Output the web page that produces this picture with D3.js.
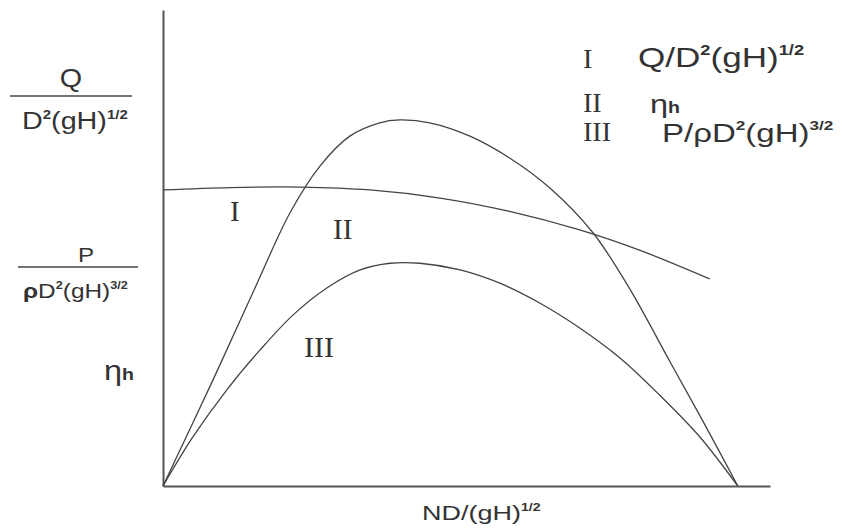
<!DOCTYPE html>
<html lang="en">
<head>
    <meta charset="UTF-8">
    <title>pump characteristic curves</title>
    <script src="https://d3js.org/d3.v7.min.js"></script>
    <style>
        body { margin: 0; background: #fff; }
        .roman { font-family: "Liberation Serif", "DejaVu Serif", serif; fill: #333; }
        .sans { font-family: "Liberation Sans", Arial, sans-serif; fill: #333; }
        .curve { fill: none; stroke: #444; stroke-width: 1.3px; }
        .axis path { stroke: #555; stroke-width: 2px; }
    </style>
</head>
<body>
<script>
    // x: ND/(gH)^1/2 (normalised, 1 = shut-off point)
    // curve I : Q/D^2(gH)^1/2
    const xI = [0, 0.117, 0.238, 0.360, 0.482, 0.603, 0.725, 0.830, 0.951];
    const yI = [0.622, 0.627, 0.628, 0.622, 0.605, 0.577, 0.538, 0.495, 0.435];
    // curve II : eta_h
    const xII = [0, 0.087, 0.163, 0.221, 0.273, 0.325, 0.377, 0.412, 0.464, 0.534, 0.603, 0.673, 0.748, 0.812, 0.882, 0.943, 1.0];
    const yII = [0, 0.223, 0.424, 0.574, 0.672, 0.735, 0.763, 0.769, 0.763, 0.735, 0.689, 0.626, 0.532, 0.414, 0.261, 0.128, 0];
    // curve III : P/rhoD^2(gH)^3/2
    const xIII = [0, 0.052, 0.111, 0.169, 0.226, 0.285, 0.343, 0.395, 0.447, 0.517, 0.586, 0.656, 0.725, 0.795, 0.864, 0.934, 1.0];
    const yIII = [0, 0.103, 0.202, 0.286, 0.359, 0.416, 0.454, 0.468, 0.468, 0.454, 0.426, 0.384, 0.332, 0.269, 0.191, 0.103, 0];

    const width = 842;
    const height = 530;

    const x = d3.scaleLinear().domain([0, 1.056]).range([163, 770]);
    const y = d3.scaleLinear().domain([0, 1]).range([486, 10]);

    const svg = d3.select("body").append("svg")
        .attr("width", width).attr("height", height);

    //坐标轴
    svg.append("g").attr("class", "axis")
        .attr("transform", `translate(0,${y(0)})`)
        .call(d3.axisBottom(x).ticks(0).tickSizeOuter(0));
    svg.append("g").attr("class", "axis")
        .attr("transform", `translate(${x(0)},0)`)
        .call(d3.axisLeft(y).ticks(0).tickSizeOuter(0));

    //曲线
    const line = d3.line()
        .x(d => x(d[0]))
        .y(d => y(d[1]))
        .curve(d3.curveCatmullRom.alpha(0.5));

    [[xI, yI], [xII, yII], [xIII, yIII]].forEach(function (s) {
        svg.append("path")
            .attr("class", "curve")
            .attr("d", line(d3.zip(s[0], s[1])));
    });

    //曲线编号
    function roman(t, px, py, size) {
        svg.append("text").attr("class", "roman")
            .attr("x", px).attr("y", py)
            .attr("font-size", size)
            .text(t);
    }
    roman("I", 230, 221, 29);
    roman("II", 333, 239, 29);
    roman("III", 304, 357, 30);

    //带上标的文本, sx 为横向拉伸
    function rich(parts, px, py, size, sx, anchor) {
        const t = svg.append("text").attr("class", "sans")
            .attr("transform", `translate(${px},${py}) scale(${sx || 1},1)`)
            .attr("font-size", size)
            .attr("text-anchor", anchor || "start");
        parts.forEach(function (p) {
            const sp = t.append("tspan").text(p.t);
            if (p.sup) sp.attr("font-size", size * 0.52).attr("dy", -size * 0.45).attr("font-weight", "bold");
            if (p.down) sp.attr("dy", size * 0.45);
            if (p.bold) sp.attr("font-weight", "bold");
            if (p.small) sp.attr("font-size", size * 0.6).attr("font-weight", "bold");
        });
        return t;
    }

    //左侧纵轴标签
    rich([{t: "Q"}], 71, 87, 25, 1.15, "middle");
    svg.append("line").attr("x1", 10).attr("x2", 132).attr("y1", 96).attr("y2", 96)
        .attr("stroke", "#444").attr("stroke-width", 1.5);
    rich([{t: "D"}, {t: "2", sup: true}, {t: "(gH)", down: true}, {t: "1/2", sup: true}], 22, 129, 23, 1.25);

    rich([{t: "P"}], 86, 262, 21, 1.15, "middle");
    svg.append("line").attr("x1", 18).attr("x2", 138).attr("y1", 267).attr("y2", 267)
        .attr("stroke", "#444").attr("stroke-width", 1.5);
    rich([{t: "ρ", bold: true}, {t: "D"}, {t: "2", sup: true}, {t: "(gH)", down: true}, {t: "3/2", sup: true}], 23, 298, 20, 1.22);

    rich([{t: "η"}, {t: "h", small: true}], 104, 380, 28, 1.16);

    //横轴标签
    rich([{t: "ND/(gH)"}, {t: "1/2", sup: true}], 422, 520, 20, 1.35);

    //图例
    roman("I", 583, 68, 28);
    roman("II", 583, 112, 28);
    roman("III", 583, 141, 28);
    rich([{t: "Q/D"}, {t: "2", sup: true}, {t: "(gH)", down: true}, {t: "1/2", sup: true}], 638, 67, 27, 1.3);
    rich([{t: "η"}, {t: "h", small: true}], 650, 113, 26, 1.25);
    rich([{t: "P/ρD"}, {t: "2", sup: true}, {t: "(gH)", down: true}, {t: "3/2", sup: true}], 662, 142, 26, 1.27);
</script>
</body>
</html>
